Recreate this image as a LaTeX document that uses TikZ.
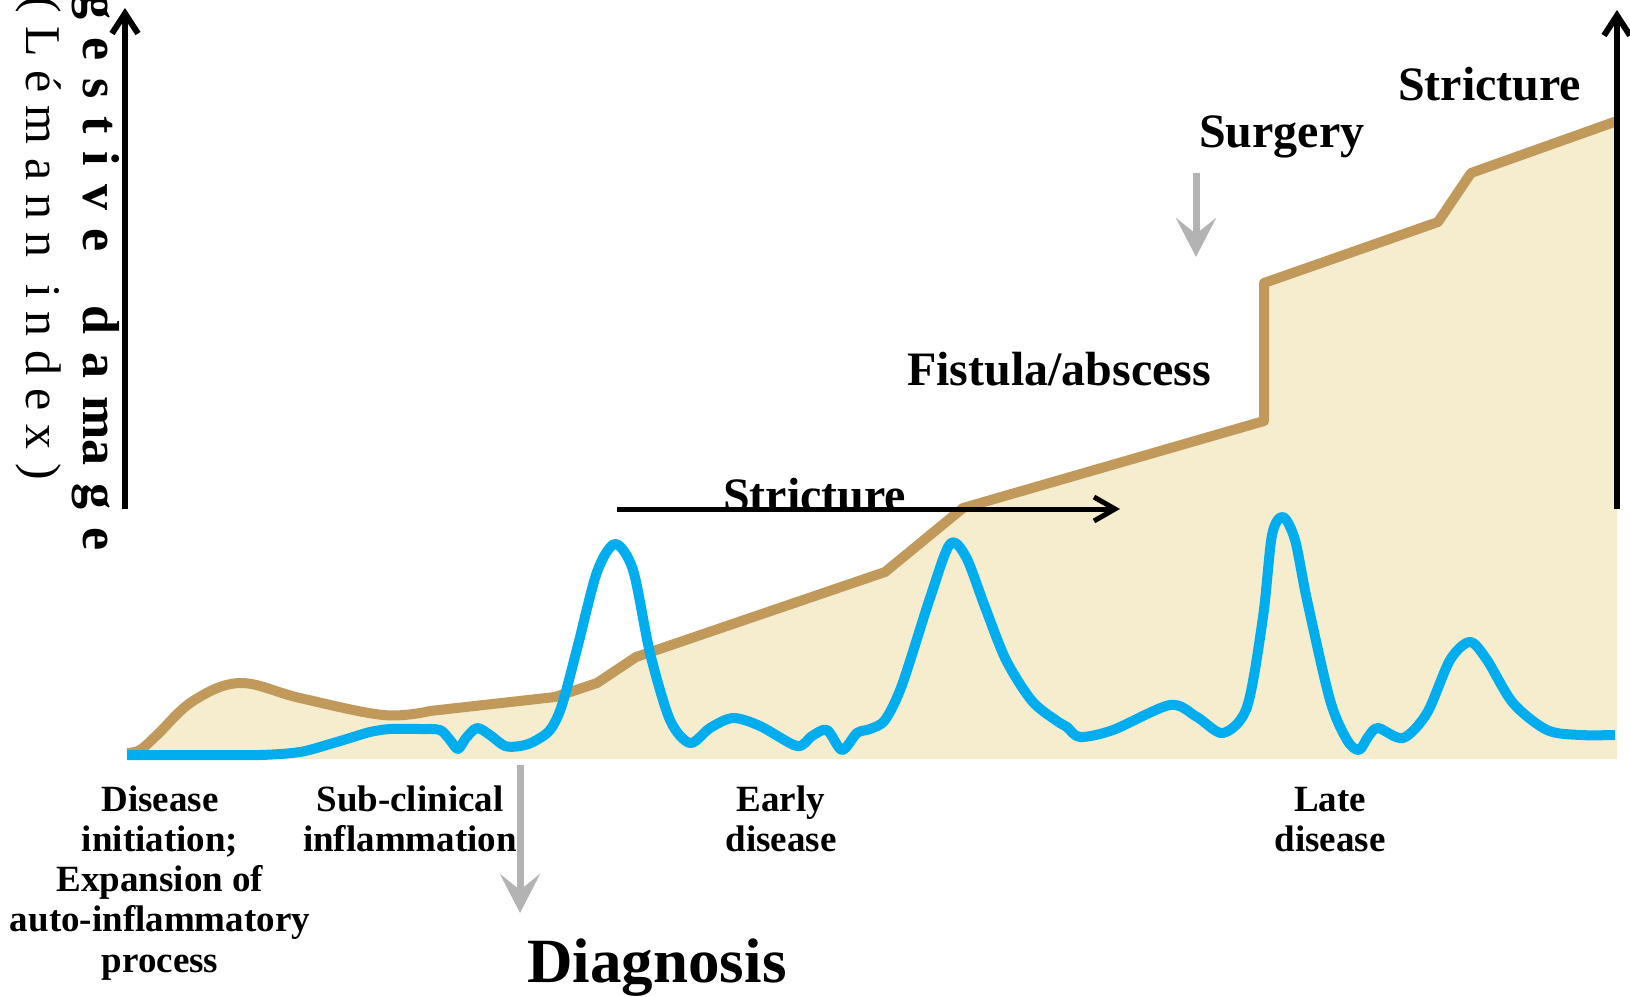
\documentclass[tikz,border=0pt]{standalone}
\usepackage{fontspec}
\setmainfont{Liberation Serif}
\usetikzlibrary{arrows.meta}
\definecolor{damfill}{HTML}{F5EDCD}
\definecolor{damline}{HTML}{C19A5B}
\definecolor{inflam}{HTML}{00AEEF}
\definecolor{pointer}{HTML}{B3B3B3}
\begin{document}
\begin{tikzpicture}[x=1pt,y=-1pt,
  axisline/.style={line width=6pt,-{Straight Barb[length=20pt,width=26pt]}},
  grayarrow/.style={line width=7pt,draw=pointer,-{Stealth[length=39pt,width=40pt,inset=16pt,fill=pointer]}},
  damageline/.style={draw=damline,line width=10pt,line join=round},
  inflamline/.style={draw=inflam,line width=10pt,line join=round},
  bigtxt/.style={font=\fontsize{48}{52}\selectfont\bfseries,inner sep=0pt},
  lbl/.style={font=\fontsize{37}{40.3}\selectfont\bfseries,align=center,inner sep=0pt,anchor=base},
  axtxt/.style={inner sep=0pt,rotate=-90,anchor=base east}]
\path[use as bounding box] (0,0) rectangle (1630,996);
\clip (0,0) rectangle (1630,996);
% damage area
\path[fill=damfill] plot[smooth,tension=0.6] coordinates {(127,753) (140,750) (157,735) (193,701) (240,683) (300,698) (383,715) (430,711)}
  -- (555,697) -- (597,683) -- (636,657) -- (885,572) -- (963,508) -- (1264,421) -- (1264,283)
  -- (1438,222) -- (1471,173) -- (1617,121) -- (1617,759) -- (127,759) -- cycle;
\draw[damageline] plot[smooth,tension=0.6] coordinates {(127,753) (140,750) (157,735) (193,701) (240,683) (300,698) (383,715) (430,711)}
  -- (555,697) -- (597,683) -- (636,657) -- (885,572) -- (963,508) -- (1264,421) -- (1264,283)
  -- (1438,222) -- (1471,173) -- (1617,121);
% inflammation curve
\draw[inflamline] plot[smooth,tension=0.5] coordinates {(127,755) (200,755) (260,755) (300,752) (330,744) (350,738) (370,732) (390,729) (420,729) (440,730) (450,740) (458,749) (466,738) (477,728) (490,735) (505,746) (520,746) (533,742) (550,730) (562,705) (578,645) (597,572) (615,544) (633,570) (650,653) (670,720) (690,743) (710,728) (733,718) (760,726) (797,746) (812,736) (827,730) (842,750) (857,733) (870,729) (885,720) (902,685) (930,598) (950,544) (966,557) (985,607) (1006,660) (1032,701) (1057,721) (1067,727) (1080,737) (1113,730) (1170,705) (1197,717) (1223,733) (1247,707) (1263,617) (1272,535) (1283,517) (1295,540) (1307,600) (1330,700) (1347,740) (1359,750) (1368,737) (1378,728) (1403,738) (1427,713) (1450,660) (1470,642) (1487,660) (1513,703) (1547,730) (1580,735) (1615,735)};
% axes
\coordinate (lax0) at (125,509);
\coordinate (lax1) at (125,8);
\coordinate (rax0) at (1617,509);
\coordinate (rax1) at (1617,10);
\draw[axisline] (lax0) -- (lax1);
\draw[axisline] (rax0) -- (rax1);
% axis title
\node[axtxt,font=\fontsize{52}{56}\selectfont\bfseries] (ytitle) at (83,551)
  {{\spaceskip=18pt\relax D i g e s t i v e\hspace{54pt}d a ma g e}};
\node[axtxt,font=\fontsize{50}{54}\selectfont] (ysub) at (26,480)
  {{\spaceskip=13.5pt\relax ( L é m a n n\hspace{27pt}i n d e x )}};
% stricture arrow
\node[bigtxt,anchor=base west] (strictmid) at (723,511) {Stricture};
\coordinate (sa0) at (617,509);
\coordinate (sa1) at (1120,509);
\draw[line width=5pt,-{Straight Barb[length=21pt,width=24pt]}] (sa0) -- (sa1);
% top labels
\node[bigtxt,anchor=base west] (fistula) at (907,385) {Fistula/abscess};
\node[bigtxt,anchor=base west] (surgery) at (1199,147) {Surgery};
\node[bigtxt,anchor=base west] (stricttop) at (1398,100) {Stricture};
% gray arrows
\coordinate (sg0) at (1196,173);
\coordinate (sg1) at (1196,257);
\draw[grayarrow] (sg0) -- (sg1);
\coordinate (dg0) at (520,765);
\coordinate (dg1) at (520,913);
\draw[grayarrow] (dg0) -- (dg1);
% bottom labels (base anchor = baseline of last line)
\node[lbl] (init) at (160,972.2) {Disease\\initiation;\\Expansion of\\auto-inflammatory\\process};
\node[lbl] (subclin) at (410,851.3) {Sub-clinical\\inflammation};
\node[lbl] (early) at (781,851.3) {Early\\disease};
\node[lbl] (late) at (1330,851.3) {Late\\disease};
\node[font=\fontsize{63}{68}\selectfont\bfseries,inner sep=0pt,anchor=base] (diag) at (657,982) {Diagnosis};
\end{tikzpicture}
\end{document}
